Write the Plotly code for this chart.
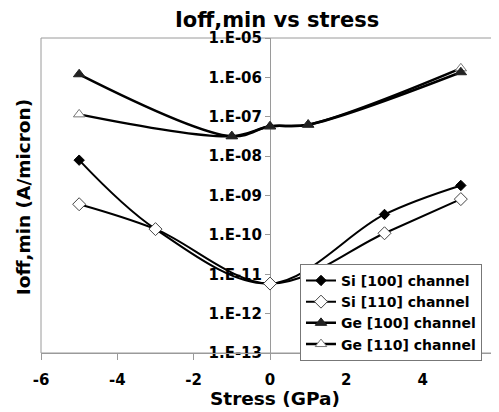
import plotly.graph_objects as go

# stress (GPa) and Ioff,min (A/micron)
stress_si = [-5, -3, 0, 3, 5]
si_100 = [7.9e-9, 1.4e-10, 5.8e-12, 3.3e-10, 1.8e-9]
si_110 = [6.0e-10, 1.4e-10, 5.8e-12, 1.1e-10, 8.1e-10]

stress_ge = [-5, -1, 0, 1, 5]
ge_100 = [1.2e-6, 3.2e-8, 5.7e-8, 6.3e-8, 1.35e-6]
ge_110 = [1.15e-7, 3.2e-8, 5.7e-8, 6.3e-8, 1.7e-6]

x_ticks = [-6, -4, -2, 0, 2, 4, 6]
y_ticks = [1e-13, 1e-12, 1e-11, 1e-10, 1e-9, 1e-8, 1e-7, 1e-6, 1e-5]
y_ticktext = ["1.E-13", "1.E-12", "1.E-11", "1.E-10", "1.E-09",
              "1.E-08", "1.E-07", "1.E-06", "1.E-05"]

FONT = "DejaVu Sans"
GRAY = "#9a9a9a"

fig = go.Figure()

fig.add_trace(go.Scatter(
    x=stress_si, y=si_100, name="<b>Si [100] channel</b>", legendrank=1,
    mode="lines+markers", line=dict(color="black", width=2, shape="spline"),
    marker=dict(symbol="diamond", size=8, color="black", line=dict(color="black", width=1))
))
fig.add_trace(go.Scatter(
    x=stress_si, y=si_110, name="<b>Si [110] channel</b>", legendrank=2,
    mode="lines+markers", line=dict(color="black", width=2, shape="spline"),
    marker=dict(symbol="diamond", size=10, color="white", line=dict(color="#444", width=1))
))
# Ge [110] drawn first so the filled triangles sit on top, as in the picture
fig.add_trace(go.Scatter(
    x=stress_ge, y=ge_110, name="<b>Ge [110] channel</b>", legendrank=4,
    mode="lines+markers", line=dict(color="black", width=2.5, shape="spline"),
    marker=dict(symbol="triangle-up", size=10, color="white", line=dict(color="#777", width=1))
))
fig.add_trace(go.Scatter(
    x=stress_ge, y=ge_100, name="<b>Ge [100] channel</b>", legendrank=3,
    mode="lines+markers", line=dict(color="black", width=2.5, shape="spline"),
    marker=dict(symbol="triangle-up", size=10, color="#222", line=dict(color="#222", width=1))
))

# frame round the plot area
fig.add_shape(type="rect", xref="paper", yref="paper", x0=0, y0=0, x1=1, y1=1,
              line=dict(color=GRAY, width=1), layer="below")

# page body has an 8px margin, so the figure is sized/offset to suit
fig.update_layout(
    width=491, height=404,
    margin=dict(l=33, r=0, t=30, b=59, autoexpand=False),
    paper_bgcolor="white", plot_bgcolor="white",
    font=dict(family=FONT, color="black"),
    title=dict(text="<b>Ioff,min vs stress</b>", x=0.548, xanchor="center",
               y=0.972, yanchor="middle", font=dict(size=21, family=FONT)),
    legend=dict(x=0.5655, y=0.283, xanchor="left", yanchor="top",
                bgcolor="white", bordercolor="#777", borderwidth=1,
                font=dict(size=14, family=FONT), tracegroupgap=0,
                itemwidth=30),
)

fig.update_xaxes(
    range=[-6, 6], tickvals=x_ticks, ticktext=[f"<b>{v}</b>" for v in x_ticks],
    showgrid=False, zeroline=False, showline=True, linecolor=GRAY, linewidth=1,
    ticks="outside", ticklen=6, tickcolor=GRAY, ticklabelstandoff=7,
    ticklabeloverflow="allow", tickfont=dict(size=15, family=FONT),
)
fig.update_yaxes(
    type="log", range=[-13, -5], tickvals=y_ticks,
    ticktext=[f"<b>{t}</b>" for t in y_ticktext],
    anchor="free", position=0.5, layer="below traces",
    showgrid=False, zeroline=False, showline=True, linecolor=GRAY, linewidth=1,
    ticks="outside", ticklen=5, tickcolor=GRAY,
    ticklabeloverflow="allow", tickfont=dict(size=15, family=FONT),
)
# axis titles as annotations: the y one sits at the left edge, not by the centred axis
fig.add_annotation(text="<b>Ioff,min (A/micron)</b>", xref="paper", yref="paper",
                   x=-0.039, y=0.495, xanchor="center", yanchor="middle", textangle=-90,
                   showarrow=False, font=dict(size=18.5, family=FONT))
fig.add_annotation(text="<b>Stress (GPa)</b>", xref="paper", yref="paper",
                   x=0.511, y=-0.143, xanchor="center", yanchor="middle",
                   showarrow=False, font=dict(size=18.5, family=FONT))

fig.write_html("out.html")
